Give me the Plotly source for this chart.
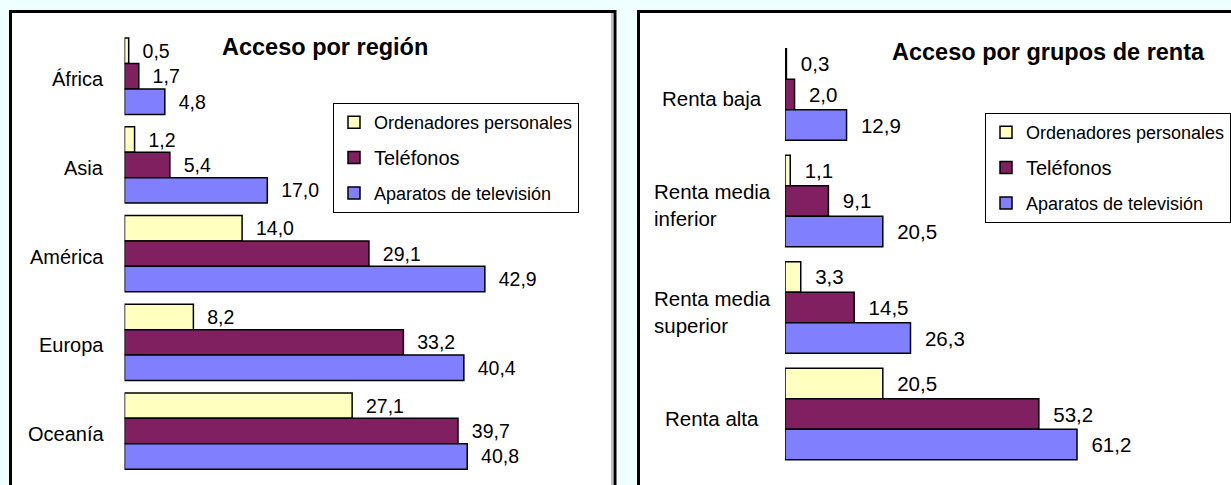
import plotly.graph_objects as go

W, H = 1231, 485

# ---- data ----
regiones = ["África", "Asia", "América", "Europa", "Oceanía"]
reg_pc = [0.5, 1.2, 14.0, 8.2, 27.1]
reg_tel = [1.7, 5.4, 29.1, 33.2, 39.7]
reg_tv = [4.8, 17.0, 42.9, 40.4, 40.8]

rentas = ["Renta baja", "Renta media<br>inferior", "Renta media<br>superior", "Renta alta"]
renta_pc = [0.3, 1.1, 3.3, 20.5]
renta_tel = [2.0, 9.1, 14.5, 53.2]
renta_tv = [12.9, 20.5, 26.3, 61.2]

series_names = ["Ordenadores personales",
                "<span style='font-size:20px'>Teléfonos</span>",
                "Aparatos de televisión"]
series_colors = ["#FFFFC0", "#802060", "#8080FF"]

FONT = "Liberation Sans, Arial, sans-serif"
BG = "#EFFFFF"


def px(x):
    return x / W


def py(y):
    return 1 - y / H


def lab(v):
    return "\u00a0\u00a0" + f"{v:.1f}".replace(".", ",")


fig = go.Figure()

left_vals = [reg_pc, reg_tel, reg_tv]
right_vals = [renta_pc, renta_tel, renta_tv]

for i, (name, col) in enumerate(zip(series_names, series_colors)):
    fig.add_trace(go.Bar(
        y=regiones, x=left_vals[i], orientation="h", name=name,
        marker=dict(color=col, line=dict(color="black", width=1.5)),
        text=[lab(v) for v in left_vals[i]], textposition="outside",
        textfont=dict(family=FONT, size=19.5, color="black"),
        constraintext="none", cliponaxis=False,
        xaxis="x", yaxis="y", legend="legend", legendgroup="L%d" % i,
        hoverinfo="skip",
    ))
for i, (name, col) in enumerate(zip(series_names, series_colors)):
    fig.add_trace(go.Bar(
        y=rentas, x=right_vals[i], orientation="h", name=name,
        marker=dict(color=col, line=dict(color="black", width=1.5)),
        text=[lab(v) for v in right_vals[i]], textposition="outside",
        textfont=dict(family=FONT, size=20.5, color="black"),
        constraintext="none", cliponaxis=False,
        xaxis="x2", yaxis="y2", legend="legend2", legendgroup="R%d" % i,
        hoverinfo="skip",
    ))

annotations = []
for c in regiones:
    annotations.append(dict(
        x=px(106), xref="paper", xanchor="right", y=c, yref="y",
        text=c, showarrow=False, yshift=-3,
        font=dict(family=FONT, size=20, color="black"),
    ))
for c in rentas:
    annotations.append(dict(
        x=px(712), xref="paper", xanchor="center", align="left", y=c, yref="y2",
        text=c, showarrow=False, yshift=-4,
        font=dict(family=FONT, size=20.5, color="black"),
    ))
annotations.append(dict(
    x=px(325), y=py(47), xref="paper", yref="paper", xanchor="center", yanchor="middle",
    text="<b>Acceso por región</b>", showarrow=False,
    font=dict(family=FONT, size=23.5, color="black"),
))
annotations.append(dict(
    x=px(1048.5), y=py(51.7), xref="paper", yref="paper", xanchor="center", yanchor="middle",
    text="<b>Acceso por grupos de renta</b>", showarrow=False,
    font=dict(family=FONT, size=23.5, color="black"),
))

shapes = [
    dict(type="rect", xref="paper", yref="paper", layer="below",
         x0=px(10.5), x1=px(615), y0=py(11.5), y1=py(520),
         fillcolor="white", line=dict(color="black", width=3)),
    dict(type="line", xref="paper", yref="paper", layer="below",
         x0=px(612), x1=px(612), y0=py(13), y1=py(520),
         line=dict(color="#808080", width=1)),
    dict(type="rect", xref="paper", yref="paper", layer="below",
         x0=px(638.5), x1=px(1260), y0=py(11.5), y1=py(520),
         fillcolor="white", line=dict(color="black", width=3)),
]

legend_common = dict(
    bgcolor="white", bordercolor="black", borderwidth=1,
    font=dict(family=FONT, size=18, color="black"),
    traceorder="grouped", tracegroupgap=9,
    xanchor="left", yanchor="top",
)

fig.update_layout(
    width=W, height=H,
    margin=dict(l=0, r=0, t=0, b=0),
    paper_bgcolor=BG, plot_bgcolor="rgba(0,0,0,0)",
    separators=",.",
    barmode="group", bargap=0.14, bargroupgap=0,
    font=dict(family=FONT, size=18, color="black"),
    xaxis=dict(domain=[px(124.5), px(544.5)], range=[0, 50], visible=False, anchor="y"),
    yaxis=dict(domain=[py(475.4), py(31.9)], autorange="reversed", visible=False, anchor="x"),
    xaxis2=dict(domain=[px(785), px(1119)], range=[0, 70], visible=False, anchor="y2"),
    yaxis2=dict(domain=[py(467.3), py(41.2)], autorange="reversed", visible=False, anchor="x2"),
    legend=dict(x=px(333), y=py(103), **legend_common),
    legend2=dict(x=px(985), y=py(113), **legend_common),
    annotations=annotations,
    shapes=shapes,
    showlegend=True,
)

fig.write_html(
    "out.html",
    config={"displayModeBar": False},
    post_script="document.body.style.margin='0';document.body.style.background='%s';" % BG,
)
